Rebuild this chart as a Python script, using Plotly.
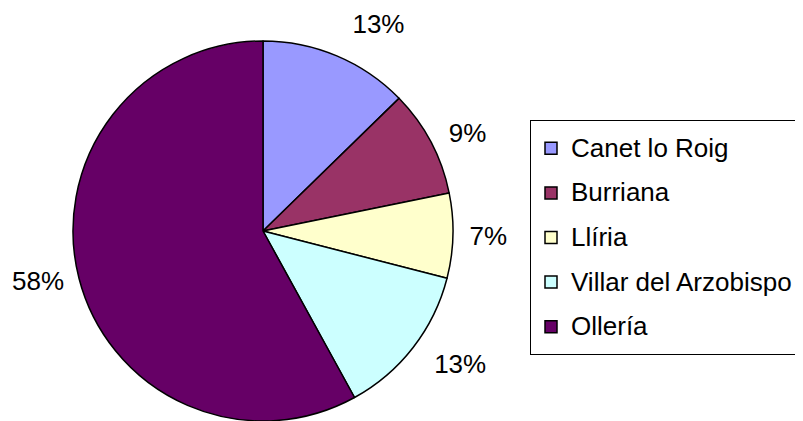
import plotly.graph_objects as go

towns = ['Canet lo Roig', 'Burriana', 'Llíria', 'Villar del Arzobispo', 'Ollería']
shares = [12.7, 9.1, 7.2, 13.0, 58.0]
colors = ['#9999FF', '#993366', '#FFFFCC', '#CCFFFF', '#660066']

# page body adds an 8px offset, so work in figure px = screen px - 8
W, H = 820, 480
CX, CY, R = 255, 223, 190
label_pull = [0.11, 0.062, 0.048, 0.09, 0.04]
FONT = 'Liberation Sans, Arial, sans-serif'


def dom(cx, cy, r):
    return dict(x=[(cx - r) / W, (cx + r) / W], y=[1 - (cy + r) / H, 1 - (cy - r) / H])


# legend rows are spaced by the legend font size, the visible text is set smaller
legend_names = [f"<span style='font-size:26px;baseline-shift:4px'>{t}</span>" for t in towns]

fig = go.Figure()

# the pie itself
fig.add_trace(go.Pie(
    labels=legend_names,
    values=shares,
    sort=False,
    direction='clockwise',
    rotation=0,
    marker=dict(colors=colors, line=dict(color='black', width=1.5)),
    textinfo='none',
    hovertext=towns,
    hoverinfo='text+percent',
    domain=dom(CX, CY, R),
))

# percentage labels: transparent copy, slices pulled out a bit so the labels sit further away
fig.add_trace(go.Pie(
    labels=legend_names,
    values=shares,
    sort=False,
    direction='clockwise',
    rotation=0,
    pull=label_pull,
    marker=dict(colors=['rgba(0,0,0,0)'] * len(towns), line=dict(width=0)),
    texttemplate='%{percent:.0%}',
    textposition='outside',
    textfont=dict(family=FONT, size=26, color='black'),
    hoverinfo='skip',
    showlegend=False,
    domain=dom(CX, CY, R * (1 + max(label_pull))),
))

fig.update_layout(
    width=W,
    height=H,
    margin=dict(l=0, r=0, t=0, b=0, autoexpand=False),
    paper_bgcolor='white',
    plot_bgcolor='white',
    font=dict(family=FONT, color='black'),
    showlegend=True,
    legend=dict(
        x=522 / W, xanchor='left',
        y=1 - 112 / H, yanchor='top',
        bordercolor='black', borderwidth=1,
        font=dict(size=32, color='black'),
        traceorder='normal',
    ),
)

fig.write_html('out.html')
